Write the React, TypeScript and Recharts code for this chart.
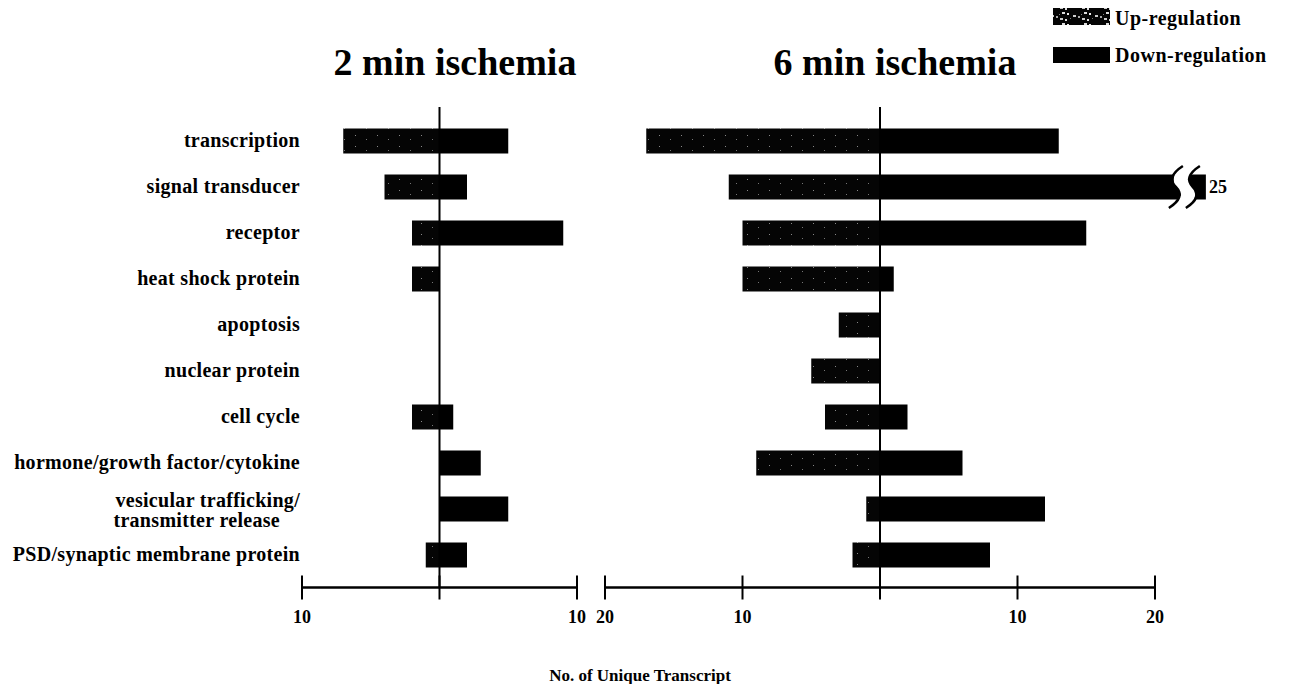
import React from "react";
import { BarChart, Bar, XAxis, YAxis, ReferenceLine } from "recharts";

const categories = [
  "transcription",
  "signal transducer",
  "receptor",
  "heat shock protein",
  "apoptosis",
  "nuclear protein",
  "cell cycle",
  "hormone/growth factor/cytokine",
  "vesicular trafficking/\ntransmitter release",
  "PSD/synaptic membrane protein",
];

// number of transcripts per category
const up2 = [7, 4, 2, 2, 0, 0, 2, 0, 0, 1];
const down2 = [5, 2, 9, 0, 0, 0, 1, 3, 5, 2];
const up6 = [17, 11, 10, 10, 3, 5, 4, 9, 1, 2];
const down6 = [13, 25, 15, 1, 0, 0, 2, 6, 12, 8];

const ticks2 = [-10, 0, 10];
const ticks6 = [-20, -10, 0, 10, 20];

const AXIS_MAX_6 = 20; // the 6 min axis stops here; longer bars are broken
const BREAK_SHOWN = 23.7; // length a broken bar is drawn to

const data2 = categories.map((name, i) => ({ name, up: -up2[i], down: down2[i] }));
const data6 = categories.map((name, i) => ({ name, up: -up6[i], down: down6[i] }));

const serif = '"Liberation Serif", "Times New Roman", serif';

function CategoryTick({ x, y, payload }: any) {
  const lines = String(payload.value).split("\n");
  const style = { fontFamily: serif, fontWeight: 700, fontSize: 20, letterSpacing: 0.3 };
  if (lines.length === 1) {
    return (
      <text x={x} y={y} dy={6.5} textAnchor="end" fill="#000" style={style}>
        {lines[0]}
      </text>
    );
  }
  return (
    <g>
      <text x={x} y={y} dy={-2} textAnchor="end" fill="#000" style={style}>
        {lines[0]}
      </text>
      <text x={x - 20} y={y} dy={18} textAnchor="end" fill="#000" style={style}>
        {lines[1]}
      </text>
    </g>
  );
}

function ValueTick({ x, y, payload }: any) {
  return (
    <g>
      <line x1={x} x2={x} y1={y - 12} y2={y + 12} stroke="#000" strokeWidth={2} />
      {payload.value !== 0 && (
        <text
          x={x}
          y={y + 35}
          textAnchor="middle"
          fill="#000"
          style={{ fontFamily: serif, fontWeight: 700, fontSize: 18 }}
        >
          {Math.abs(payload.value)}
        </text>
      )}
    </g>
  );
}

// bars are plotted capped at the axis end; a capped bar runs on past the
// axis, gets a break mark and its real value written after it
function DownShape(props: any) {
  const { x, y, width, height, payload } = props;
  if (!width || width <= 0) return null;
  if (payload.down <= AXIS_MAX_6) {
    return <rect x={x} y={y} width={width} height={height} fill="#000" />;
  }
  const end = x + (width * BREAK_SHOWN) / AXIS_MAX_6;
  const cy = y + height / 2;
  const s = (cx: number) =>
    `M ${cx + 7} ${cy - 21} Q ${cx - 10} ${cy - 10} ${cx} ${cy} Q ${cx + 10} ${cy + 10} ${cx - 7} ${cy + 21}`;
  const s1 = end - 30;
  const s2 = end - 13;
  return (
    <g>
      <rect x={x} y={y} width={end - x} height={height} fill="#000" />
      <path d={s((s1 + s2) / 2)} stroke="#fff" strokeWidth={14} fill="none" />
      <path d={s(s1)} stroke="#000" strokeWidth={2.5} fill="none" />
      <path d={s(s2)} stroke="#000" strokeWidth={2.5} fill="none" />
      <text
        x={end + 3}
        y={cy + 6}
        fill="#000"
        style={{ fontFamily: serif, fontWeight: 700, fontSize: 18 }}
      >
        {payload.down}
      </text>
    </g>
  );
}

function Speckle({ id, dense }: { id: string; dense?: boolean }) {
  return (
    <pattern id={id} width={22} height={11} patternUnits="userSpaceOnUse">
      <rect width={22} height={11} fill="#050505" />
      <rect x={3} y={3} width={1} height={1} fill="#888" />
      <rect x={14} y={7} width={1} height={1} fill="#777" />
      {dense && (
        <>
          <rect x={6} y={1} width={3} height={2} fill="#ddd" />
          <rect x={11} y={2} width={2} height={2} fill="#eee" />
          <rect x={17} y={4} width={3} height={2} fill="#ccc" />
          <rect x={4} y={7} width={3} height={2} fill="#ccc" />
          <rect x={9} y={8} width={2} height={2} fill="#ddd" />
          <rect x={0} y={5} width={2} height={2} fill="#aaa" />
        </>
      )}
    </pattern>
  );
}

export default function App() {
  const margin2 = { top: 107, right: 23, bottom: 46.5, left: 0 };
  const margin6 = { top: 107, right: 137, bottom: 46.5, left: 15 };
  const catPadding = { top: 10.5, bottom: 10 };

  return (
    <div
      style={{
        position: "absolute",
        left: 0,
        top: 0,
        width: 1292,
        height: 684,
        background: "#fff",
        fontFamily: serif,
      }}
    >
      <div style={{ position: "absolute", left: 0, top: 0 }}>
        <BarChart width={600} height={684} data={data2} layout="vertical" stackOffset="sign" margin={margin2}>
          <defs>
            <Speckle id="speckle2" />
          </defs>
          <XAxis
            type="number"
            domain={[-10, 10]}
            allowDataOverflow
            ticks={ticks2}
            interval={0}
            tick={<ValueTick />}
            axisLine={{ stroke: "#000", strokeWidth: 2.5 }}
            tickLine={false}
            tickSize={0}
            tickMargin={0}
            height={50}
          />
          <YAxis
            type="category"
            dataKey="name"
            width={302}
            interval={0}
            tick={<CategoryTick />}
            axisLine={false}
            tickLine={false}
            tickSize={0}
            tickMargin={2}
            padding={catPadding}
          />
          <ReferenceLine x={0} stroke="#000" strokeWidth={2} />
          <Bar dataKey="up" stackId="a" fill="url(#speckle2)" barSize={25} isAnimationActive={false} />
          <Bar dataKey="down" stackId="a" fill="#000" barSize={25} isAnimationActive={false} />
        </BarChart>
      </div>

      <div style={{ position: "absolute", left: 590, top: 0 }}>
        <BarChart width={702} height={684} data={data6} layout="vertical" stackOffset="sign" margin={margin6}>
          <defs>
            <Speckle id="speckle6" />
          </defs>
          <XAxis
            type="number"
            domain={[-20, 20]}
            ticks={ticks6}
            interval={0}
            tick={<ValueTick />}
            axisLine={{ stroke: "#000", strokeWidth: 2.5 }}
            tickLine={false}
            tickSize={0}
            tickMargin={0}
            height={50}
          />
          <YAxis type="category" dataKey="name" hide padding={catPadding} />
          <ReferenceLine x={0} stroke="#000" strokeWidth={2} />
          <Bar dataKey="up" stackId="a" fill="url(#speckle6)" barSize={25} isAnimationActive={false} />
          <Bar
            dataKey={(d: any) => Math.min(d.down, AXIS_MAX_6)}
            stackId="a"
            fill="#000"
            barSize={25}
            shape={<DownShape />}
            isAnimationActive={false}
          />
        </BarChart>
      </div>

      <svg
        width={1292}
        height={684}
        style={{ position: "absolute", left: 0, top: 0, pointerEvents: "none" }}
      >
        <defs>
          <Speckle id="speckleLegend" dense />
        </defs>
        <g style={{ fontFamily: serif, fontWeight: 700 }} fill="#000">
          <text x={455} y={75} textAnchor="middle" fontSize={38}>
            2 min ischemia
          </text>
          <text x={895} y={75} textAnchor="middle" fontSize={38}>
            6 min ischemia
          </text>

          <rect x={1053} y={8} width={57} height={17} fill="url(#speckleLegend)" />
          <text x={1115} y={25} fontSize={20} letterSpacing={0.5}>
            Up-regulation
          </text>
          <rect x={1053} y={47} width={57} height={16} fill="#000" />
          <text x={1115} y={62} fontSize={20} letterSpacing={0.5}>
            Down-regulation
          </text>

          <text x={640} y={681} textAnchor="middle" fontSize={17}>
            No.  of Unique Transcript
          </text>
        </g>
      </svg>
    </div>
  );
}
